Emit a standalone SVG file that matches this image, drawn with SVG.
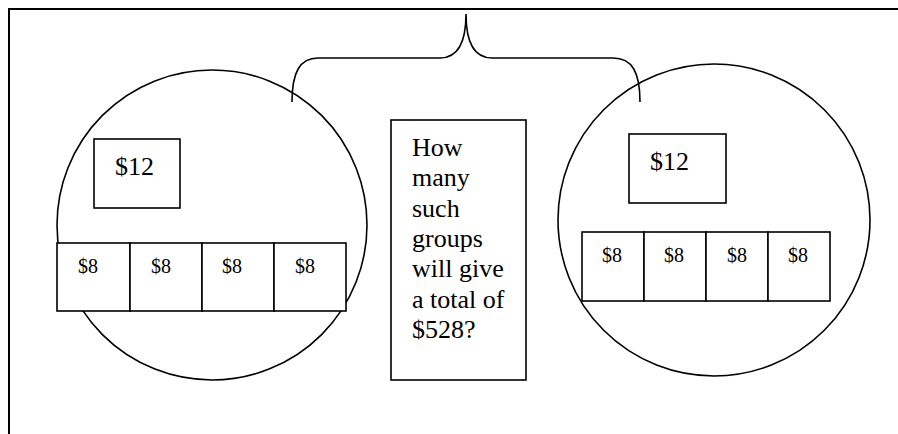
<svg xmlns="http://www.w3.org/2000/svg" width="898" height="434" viewBox="0 0 898 434">
<style>
.ln{fill:none;stroke:#000;stroke-width:1.6}
.bx{fill:#fff;stroke:#000;stroke-width:1.6}
.t{font-family:"Liberation Serif","Times New Roman",serif;fill:#000}
.big{font-size:26px}
.sm{font-size:20px}
</style>
<rect width="898" height="434" fill="#fff"/>
<g id="frame">
<path d="M9,434 V9 H898" fill="none" stroke="#000" stroke-width="2"/>
</g>
<g id="group-left">
<circle class="ln" cx="212" cy="225" r="155"/>
<g id="left-12"><rect class="bx" x="94" y="139" width="86" height="69"/><text class="t big" x="115" y="175">$12</text></g>
<g id="left-8a"><rect class="bx" x="57" y="243" width="73" height="68"/><text class="t sm" x="78" y="273">$8</text></g>
<g id="left-8b"><rect class="bx" x="130" y="243" width="72" height="68"/><text class="t sm" x="151" y="273">$8</text></g>
<g id="left-8c"><rect class="bx" x="202" y="243" width="72" height="68"/><text class="t sm" x="222" y="273">$8</text></g>
<g id="left-8d"><rect class="bx" x="274" y="243" width="72" height="68"/><text class="t sm" x="295" y="273">$8</text></g>
</g>
<g id="group-right">
<circle class="ln" cx="714" cy="220" r="156"/>
<g id="right-12"><rect class="bx" x="629" y="134" width="97" height="69"/><text class="t big" x="650" y="170">$12</text></g>
<g id="right-8a"><rect class="bx" x="582" y="232" width="62" height="69"/><text class="t sm" x="602" y="262">$8</text></g>
<g id="right-8b"><rect class="bx" x="644" y="232" width="62" height="69"/><text class="t sm" x="664" y="262">$8</text></g>
<g id="right-8c"><rect class="bx" x="706" y="232" width="62" height="69"/><text class="t sm" x="727" y="262">$8</text></g>
<g id="right-8d"><rect class="bx" x="768" y="232" width="62" height="69"/><text class="t sm" x="788" y="262">$8</text></g>
</g>
<g id="question">
<rect class="bx" x="391" y="120" width="135" height="260"/>
<text class="t big">
<tspan x="412" y="156">How</tspan>
<tspan x="412" y="186.3">many</tspan>
<tspan x="412" y="216.7">such</tspan>
<tspan x="412" y="247">groups</tspan>
<tspan x="412" y="277.3">will give</tspan>
<tspan x="412" y="307.7">a total of</tspan>
<tspan x="412" y="338">$528?</tspan>
</text>
</g>
<g id="connectors">
<path class="ln" d="M292,102 C292,72 300,58 318,58 L440,58 C458,58 466,42 466,14 C466,42 474,58 492,58 L613,58 C632,58 640,72 640,102"/>
</g>
</svg>
